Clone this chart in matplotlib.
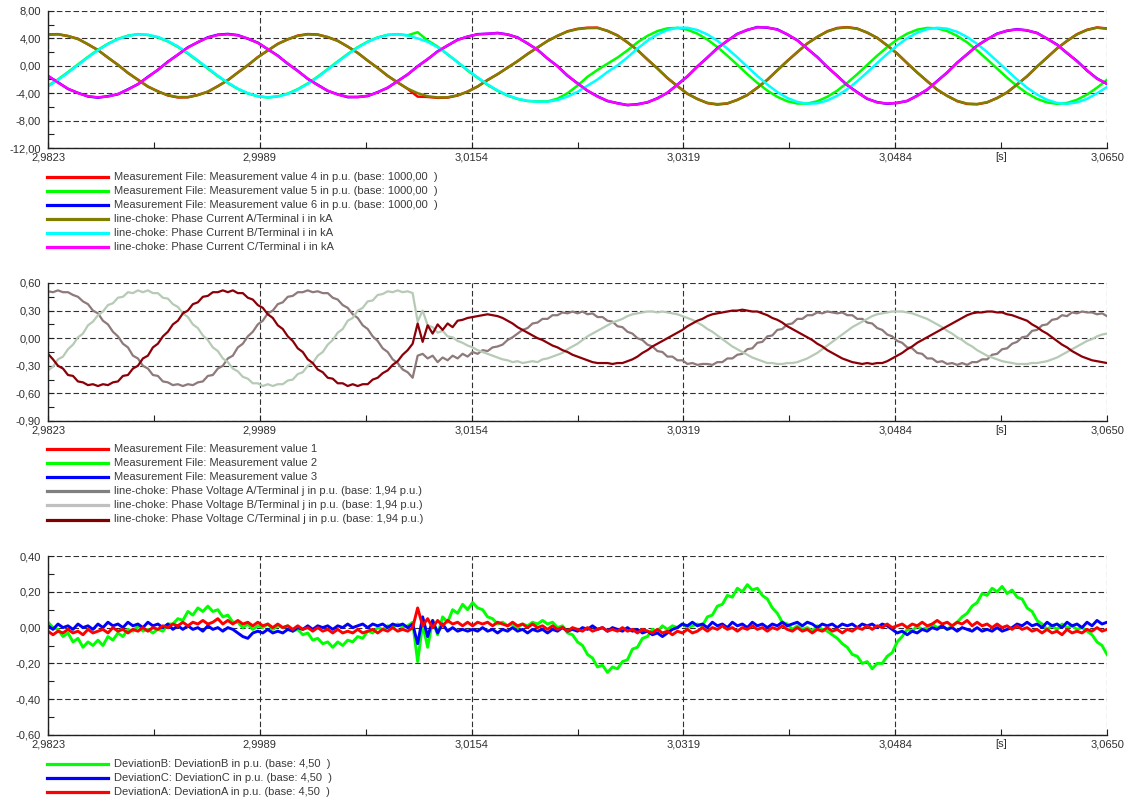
import matplotlib
matplotlib.use('Agg')
import matplotlib.pyplot as plt
from matplotlib.lines import Line2D
import numpy as np

plt.rcParams['font.family'] = ['Liberation Sans', 'DejaVu Sans']
plt.rcParams['font.size'] = 8

W, H = 1130, 801
T_START, T_END = 2.9823, 3.0650
x_labels = ['2,9823', '2,9989', '3,0154', '3,0319', '3,0484', '3,0650']

# sampling instants of the exported traces
t_coarse = np.linspace(T_START, T_END, 107)
t_fine = np.linspace(T_START, T_END, 213)

# --- phase currents (kA) ---
meas_4 = [4.58, 4.62, 4.33, 3.95, 3.12, 2.31, 1.18, 0.16, -1.05, -2.02,
          -3.05, -3.72, -4.33, -4.62, -4.60, -4.25, -3.80, -2.96, -2.12, -0.97,
          0.06, 1.27, 2.22, 3.21, 3.85, 4.41, 4.63, 4.57, 4.17, 3.66,
          2.79, 1.90, 0.74, -0.30, -1.48, -2.42, -3.37, -4.50, -4.55, -4.68,
          -4.64, -4.34, -3.76, -3.04, -2.06, -1.24, -0.26, 0.66, 1.74, 2.66,
          3.64, 4.36, 5.04, 5.40, 5.56, 5.57, 5.08, 4.45, 3.41, 2.31,
          0.91, -0.37, -1.80, -2.95, -4.09, -4.83, -5.45, -5.66, -5.51, -4.96,
          -4.28, -3.19, -2.06, -0.64, 0.72, 1.98, 3.27, 4.20, 5.04, 5.52,
          5.64, 5.44, 4.83, 4.09, 2.95, 1.80, 0.37, -0.99, -2.23, -3.49,
          -4.37, -5.16, -5.57, -5.62, -5.35, -4.69, -3.90, -2.72, -1.54, -0.10,
          1.19, 2.55, 3.62, 4.62, 5.26, 5.60, 5.45]
meas_5 = [-2.92, -1.98, -0.92, 0.20, 1.30, 2.35, 3.22, 3.93, 4.40, 4.62,
          4.50, 4.15, 3.55, 2.75, 1.78, 0.70, -0.42, -1.52, -2.52, -3.38,
          -4.04, -4.46, -4.63, -4.46, -4.06, -3.41, -2.57, -1.58, -0.48, 0.64,
          1.73, 2.72, 3.53, 4.15, 4.52, 4.62, 4.45, 4.90, 3.70, 2.80,
          1.65, 0.55, -0.70, -1.75, -2.80, -3.65, -4.35, -4.85, -5.15, -5.20,
          -5.20, -4.80, -4.00, -2.90, -1.60, -0.60, 0.30, 1.20, 2.25, 3.42,
          4.37, 5.07, 5.47, 5.53, 5.27, 4.69, 3.83, 2.74, 1.48, 0.14,
          -1.22, -2.49, -3.62, -4.53, -5.18, -5.51, -5.51, -5.18, -4.53, -3.62,
          -2.49, -1.22, 0.14, 1.48, 2.74, 3.83, 4.69, 5.27, 5.53, 5.47,
          5.07, 4.37, 3.42, 2.25, 0.94, -0.41, -1.74, -2.96, -4.02, -4.83,
          -5.35, -5.55, -5.42, -4.96, -4.20, -3.20, -2.05]
meas_6 = [-1.50, -2.41, -3.38, -3.95, -4.48, -4.65, -4.44, -4.16, -3.43, -2.70,
          -1.61, -0.61, 0.61, 1.61, 2.70, 3.43, 4.16, 4.54, 4.65, 4.48,
          3.95, 3.38, 2.41, 1.49, 0.29, -0.73, -1.91, -2.78, -3.67, -4.16,
          -4.58, -4.54, -4.42, -3.84, -3.22, -2.22, -1.28, -0.06, 0.95, 2.12,
          2.95, 3.81, 4.24, 4.62, 4.66, 4.80, 4.56, 4.15, 3.25, 2.35,
          1.05, -0.05, -1.45, -2.55, -3.65, -4.45, -5.15, -5.45, -5.75, -5.60,
          -5.35, -4.73, -3.95, -2.74, -1.56, -0.09, 1.19, 2.59, 3.64, 4.67,
          5.22, 5.66, 5.56, 5.32, 4.57, 3.74, 2.49, 1.29, -0.19, -1.46,
          -2.84, -3.85, -4.83, -5.31, -5.55, -5.40, -5.15, -4.35, -3.50, -2.22,
          -1.00, 0.46, 1.67, 2.95, 3.85, 4.70, 5.10, 5.35, 5.15, 4.80,
          3.95, 3.10, 1.85, 0.70, -0.70, -1.85, -2.65]
i_a = [4.53, 4.59, 4.37, 3.89, 3.17, 2.27, 1.23, 0.11, -1.01, -2.07,
       -3.00, -3.76, -4.29, -4.57, -4.57, -4.29, -3.76, -3.00, -2.07, -1.01,
       0.11, 1.23, 2.27, 3.17, 3.89, 4.37, 4.59, 4.53, 4.21, 3.62,
       2.83, 1.86, 0.78, -0.34, -1.44, -2.46, -3.33, -4.00, -4.45, -4.62,
       -4.60, -4.30, -3.80, -3.00, -2.10, -1.20, -0.30, 0.70, 1.70, 2.70,
       3.60, 4.40, 5.00, 5.35, 5.50, 5.52, 5.12, 4.41, 3.45, 2.27,
       0.95, -0.41, -1.76, -2.99, -4.05, -4.87, -5.41, -5.60, -5.47, -5.00,
       -4.24, -3.23, -2.02, -0.68, 0.68, 2.02, 3.23, 4.24, 5.00, 5.47,
       5.60, 5.40, 4.87, 4.05, 2.99, 1.76, 0.41, -0.95, -2.27, -3.45,
       -4.41, -5.12, -5.52, -5.58, -5.31, -4.73, -3.86, -2.76, -1.50, -0.14,
       1.23, 2.51, 3.66, 4.58, 5.22, 5.56, 5.40]
i_b = [-3.00, -2.07, -1.01, 0.11, 1.23, 2.27, 3.17, 3.89, 4.37, 4.59,
       4.53, 4.21, 3.62, 2.83, 1.86, 0.78, -0.34, -1.44, -2.46, -3.33,
       -4.00, -4.43, -4.60, -4.49, -4.11, -3.48, -2.65, -1.66, -0.56, 0.56,
       1.66, 2.65, 3.48, 4.11, 4.49, 4.60, 4.43, 4.00, 3.50, 2.70,
       1.70, 0.50, -0.60, -1.70, -2.70, -3.60, -4.30, -4.80, -5.10, -5.25,
       -5.25, -5.00, -4.50, -3.80, -2.90, -2.00, -0.90, 0.05, 1.23, 2.51,
       3.66, 4.58, 5.22, 5.55, 5.55, 5.22, 4.58, 3.66, 2.51, 1.23,
       -0.14, -1.48, -2.74, -3.83, -4.69, -5.27, -5.53, -5.47, -5.07, -4.37,
       -3.42, -2.25, -0.94, 0.41, 1.74, 2.96, 4.02, 4.83, 5.35, 5.55,
       5.42, 4.96, 4.20, 3.20, 2.00, 0.68, -0.68, -2.00, -3.20, -4.20,
       -4.96, -5.42, -5.55, -5.35, -4.83, -4.02, -3.09]
i_c = [-1.44, -2.46, -3.33, -4.00, -4.43, -4.60, -4.49, -4.11, -3.48, -2.65,
       -1.66, -0.56, 0.56, 1.66, 2.65, 3.48, 4.11, 4.49, 4.60, 4.43,
       4.00, 3.33, 2.46, 1.44, 0.34, -0.78, -1.86, -2.83, -3.62, -4.21,
       -4.53, -4.59, -4.37, -3.89, -3.17, -2.27, -1.23, -0.11, 1.00, 2.07,
       3.00, 3.76, 4.29, 4.57, 4.70, 4.75, 4.60, 4.10, 3.30, 2.30,
       1.10, -0.10, -1.40, -2.60, -3.60, -4.50, -5.10, -5.50, -5.70, -5.65,
       -5.30, -4.78, -3.90, -2.79, -1.51, -0.14, 1.24, 2.54, 3.69, 4.62,
       5.27, 5.61, 5.61, 5.27, 4.62, 3.69, 2.54, 1.24, -0.14, -1.51,
       -2.79, -3.90, -4.78, -5.36, -5.50, -5.45, -5.10, -4.40, -3.45, -2.27,
       -0.95, 0.41, 1.72, 2.90, 3.90, 4.65, 5.15, 5.30, 5.20, 4.75,
       4.00, 3.05, 1.90, 0.65, -0.65, -1.90, -2.60]

# --- phase voltages (p.u.) ---
u_a = [0.51, 0.50, 0.52, 0.50, 0.50, 0.47, 0.45, 0.40, 0.37, 0.30,
       0.27, 0.19, 0.15, 0.07, 0.02, -0.06, -0.10, -0.19, -0.22, -0.30,
       -0.33, -0.40, -0.41, -0.47, -0.48, -0.51, -0.50, -0.52, -0.50, -0.51,
       -0.48, -0.47, -0.41, -0.40, -0.33, -0.30, -0.22, -0.19, -0.10, -0.06,
       0.02, 0.07, 0.15, 0.19, 0.27, 0.30, 0.37, 0.39, 0.45, 0.46,
       0.50, 0.50, 0.52, 0.50, 0.51, 0.49, 0.49, 0.44, 0.42, 0.36,
       0.33, 0.26, 0.22, 0.14, 0.10, 0.02, -0.03, -0.11, -0.15, -0.23,
       -0.27, -0.34, -0.37, -0.43, -0.19, -0.17, -0.22, -0.19, -0.26, -0.21,
       -0.24, -0.19, -0.22, -0.17, -0.20, -0.15, -0.17, -0.13, -0.14, -0.10,
       -0.09, -0.07, -0.02, 0.01, 0.05, 0.09, 0.11, 0.16, 0.17, 0.21,
       0.21, 0.25, 0.25, 0.28, 0.27, 0.29, 0.27, 0.29, 0.26, 0.27,
       0.23, 0.23, 0.19, 0.18, 0.13, 0.12, 0.07, 0.05, 0.00, -0.02,
       -0.07, -0.09, -0.14, -0.15, -0.20, -0.20, -0.24, -0.24, -0.28, -0.27,
       -0.29, -0.28, -0.28, -0.29, -0.26, -0.26, -0.22, -0.22, -0.18, -0.17,
       -0.12, -0.11, -0.05, -0.04, 0.02, 0.03, 0.09, 0.10, 0.15, 0.16,
       0.21, 0.21, 0.25, 0.25, 0.28, 0.27, 0.29, 0.28, 0.27, 0.28,
       0.25, 0.25, 0.21, 0.21, 0.17, 0.16, 0.11, 0.09, 0.04, 0.02,
       -0.03, -0.05, -0.10, -0.11, -0.16, -0.17, -0.22, -0.22, -0.26, -0.25,
       -0.28, -0.27, -0.29, -0.27, -0.29, -0.26, -0.26, -0.23, -0.23, -0.18,
       -0.17, -0.12, -0.11, -0.06, -0.04, 0.01, 0.02, 0.08, 0.09, 0.14,
       0.15, 0.20, 0.21, 0.25, 0.24, 0.28, 0.27, 0.29, 0.28, 0.28,
       0.26, 0.27, 0.24]
u_b = [-0.35, -0.31, -0.23, -0.20, -0.12, -0.07, 0.01, 0.05, 0.14, 0.18,
       0.25, 0.29, 0.36, 0.38, 0.44, 0.45, 0.50, 0.49, 0.52, 0.50,
       0.52, 0.49, 0.49, 0.44, 0.43, 0.37, 0.34, 0.27, 0.23, 0.15,
       0.11, 0.03, -0.02, -0.10, -0.14, -0.22, -0.26, -0.33, -0.36, -0.42,
       -0.44, -0.49, -0.49, -0.52, -0.50, -0.52, -0.50, -0.50, -0.46, -0.45,
       -0.39, -0.37, -0.30, -0.27, -0.19, -0.15, -0.07, -0.02, 0.06, 0.10,
       0.19, 0.22, 0.30, 0.33, 0.40, 0.41, 0.47, 0.48, 0.51, 0.50,
       0.52, 0.50, 0.51, 0.49, 0.18, 0.30, 0.14, 0.12, 0.06, 0.08,
       0.02, 0.01, -0.03, -0.05, -0.08, -0.10, -0.13, -0.15, -0.17, -0.19,
       -0.21, -0.23, -0.24, -0.26, -0.25, -0.27, -0.26, -0.25, -0.26, -0.23,
       -0.22, -0.20, -0.18, -0.16, -0.12, -0.09, -0.06, -0.02, 0.02, 0.05,
       0.08, 0.11, 0.14, 0.17, 0.19, 0.21, 0.24, 0.26, 0.27, 0.28,
       0.29, 0.29, 0.28, 0.29, 0.28, 0.27, 0.26, 0.24, 0.22, 0.20,
       0.17, 0.14, 0.10, 0.07, 0.03, -0.01, -0.05, -0.09, -0.12, -0.15,
       -0.18, -0.21, -0.23, -0.25, -0.27, -0.27, -0.28, -0.28, -0.27, -0.27,
       -0.26, -0.24, -0.22, -0.19, -0.16, -0.12, -0.08, -0.04, 0.00, 0.04,
       0.08, 0.12, 0.15, 0.18, 0.21, 0.24, 0.26, 0.27, 0.28, 0.29,
       0.29, 0.29, 0.28, 0.27, 0.25, 0.23, 0.21, 0.18, 0.15, 0.12,
       0.08, 0.05, 0.01, -0.02, -0.06, -0.09, -0.13, -0.16, -0.19, -0.21,
       -0.23, -0.25, -0.26, -0.27, -0.28, -0.28, -0.28, -0.27, -0.27, -0.26,
       -0.25, -0.23, -0.21, -0.18, -0.15, -0.12, -0.09, -0.06, -0.03, -0.01,
       0.02, 0.04, 0.05]
u_c = [-0.17, -0.23, -0.30, -0.33, -0.40, -0.41, -0.47, -0.48, -0.51, -0.50,
       -0.52, -0.50, -0.51, -0.48, -0.47, -0.41, -0.40, -0.33, -0.30, -0.22,
       -0.19, -0.10, -0.06, 0.02, 0.07, 0.15, 0.19, 0.27, 0.30, 0.37,
       0.39, 0.45, 0.46, 0.50, 0.50, 0.52, 0.50, 0.52, 0.49, 0.49,
       0.44, 0.42, 0.36, 0.33, 0.26, 0.22, 0.14, 0.10, 0.02, -0.03,
       -0.11, -0.15, -0.23, -0.27, -0.34, -0.37, -0.43, -0.44, -0.49, -0.49,
       -0.52, -0.50, -0.52, -0.50, -0.50, -0.45, -0.43, -0.38, -0.35, -0.29,
       -0.25, -0.18, -0.13, -0.06, 0.16, -0.04, 0.14, 0.05, 0.15, 0.09,
       0.16, 0.12, 0.19, 0.20, 0.22, 0.23, 0.24, 0.25, 0.26, 0.25,
       0.24, 0.22, 0.19, 0.16, 0.12, 0.09, 0.06, 0.03, 0.00, -0.02,
       -0.05, -0.08, -0.10, -0.13, -0.15, -0.18, -0.20, -0.22, -0.24, -0.26,
       -0.27, -0.27, -0.27, -0.28, -0.27, -0.27, -0.25, -0.23, -0.20, -0.16,
       -0.13, -0.09, -0.06, -0.03, 0.00, 0.03, 0.06, 0.09, 0.13, 0.16,
       0.19, 0.21, 0.24, 0.26, 0.27, 0.28, 0.29, 0.30, 0.30, 0.31,
       0.30, 0.29, 0.29, 0.27, 0.25, 0.22, 0.20, 0.17, 0.13, 0.10,
       0.07, 0.04, 0.01, -0.02, -0.06, -0.09, -0.13, -0.16, -0.19, -0.22,
       -0.24, -0.26, -0.27, -0.28, -0.27, -0.28, -0.27, -0.27, -0.25, -0.22,
       -0.19, -0.16, -0.12, -0.09, -0.05, -0.02, 0.01, 0.04, 0.07, 0.10,
       0.13, 0.16, 0.19, 0.22, 0.25, 0.27, 0.28, 0.28, 0.29, 0.29,
       0.28, 0.28, 0.26, 0.25, 0.23, 0.21, 0.19, 0.15, 0.12, 0.08,
       0.05, 0.01, -0.03, -0.07, -0.10, -0.14, -0.17, -0.20, -0.22, -0.24,
       -0.25, -0.26, -0.27]

# --- deviations (p.u.) ---
dev_b = [0.03, 0.00, -0.01, -0.05, -0.03, -0.08, -0.06, -0.11, -0.08, -0.10,
         -0.07, -0.10, -0.05, -0.07, -0.03, -0.05, -0.01, -0.02, 0.01, -0.02,
         -0.01, -0.03, -0.01, -0.02, 0.02, 0.02, 0.05, 0.04, 0.09, 0.07,
         0.11, 0.09, 0.12, 0.09, 0.10, 0.06, 0.07, 0.03, 0.03, 0.00,
         0.02, -0.01, 0.01, 0.00, 0.02, -0.01, 0.01, 0.00, 0.01, -0.02,
         -0.01, -0.04, -0.03, -0.07, -0.06, -0.09, -0.08, -0.11, -0.08, -0.10,
         -0.07, -0.08, -0.05, -0.06, -0.02, -0.03, 0.00, -0.01, 0.01, 0.00,
         0.02, 0.00, 0.01, 0.03, -0.19, 0.02, -0.11, 0.04, -0.04, 0.06,
         0.03, 0.10, 0.08, 0.13, 0.10, 0.14, 0.11, 0.10, 0.06, 0.05,
         0.02, 0.03, 0.01, 0.02, 0.00, 0.02, 0.01, 0.03, 0.02, 0.04,
         0.02, 0.03, 0.00, 0.01, -0.03, -0.04, -0.08, -0.10, -0.15, -0.17,
         -0.22, -0.21, -0.25, -0.22, -0.23, -0.19, -0.18, -0.12, -0.11, -0.06,
         -0.05, -0.01, -0.02, 0.01, -0.01, 0.01, 0.00, 0.02, 0.00, 0.01,
         0.02, 0.01, 0.06, 0.07, 0.12, 0.13, 0.18, 0.17, 0.22, 0.20,
         0.24, 0.21, 0.22, 0.18, 0.16, 0.11, 0.08, 0.03, 0.02, -0.01,
         0.01, -0.01, 0.00, -0.02, 0.01, -0.01, -0.02, -0.04, -0.06, -0.09,
         -0.11, -0.15, -0.16, -0.20, -0.19, -0.23, -0.20, -0.20, -0.16, -0.14,
         -0.08, -0.05, -0.01, -0.02, 0.01, -0.01, 0.00, 0.02, 0.00, 0.01,
         -0.01, 0.01, 0.03, 0.06, 0.08, 0.12, 0.14, 0.19, 0.18, 0.22,
         0.20, 0.23, 0.19, 0.21, 0.17, 0.16, 0.11, 0.09, 0.04, 0.02,
         -0.01, 0.01, -0.01, 0.02, 0.00, 0.01, -0.01, 0.00, -0.02, -0.04,
         -0.08, -0.10, -0.15]
dev_c = [0.01, -0.01, 0.02, 0.00, 0.01, -0.01, 0.02, 0.00, 0.01, -0.01,
         0.02, 0.00, 0.03, 0.01, 0.02, 0.00, 0.03, 0.01, 0.02, 0.00,
         0.03, 0.01, 0.02, 0.00, 0.02, -0.01, 0.01, -0.01, 0.01, -0.01,
         0.00, -0.02, 0.01, -0.01, 0.00, -0.02, 0.00, -0.01, -0.03, -0.05,
         -0.06, -0.03, -0.02, -0.03, -0.01, -0.03, -0.02, -0.03, -0.01, -0.02,
         0.00, -0.01, 0.01, -0.01, 0.01, 0.00, 0.01, -0.01, 0.01, 0.00,
         0.02, 0.00, 0.01, 0.02, 0.00, 0.02, 0.01, 0.02, 0.00, 0.02,
         0.01, 0.02, 0.00, 0.02, -0.09, 0.06, -0.05, 0.04, -0.03, 0.02,
         -0.02, 0.00, -0.02, -0.01, -0.02, -0.01, -0.02, 0.00, -0.02, -0.01,
         -0.03, -0.01, -0.02, 0.00, -0.02, -0.01, -0.03, -0.01, -0.02, -0.01,
         -0.03, -0.01, -0.02, 0.00, -0.02, -0.01, -0.02, 0.00, -0.01, 0.01,
         -0.01, 0.00, -0.02, 0.00, -0.01, -0.02, 0.00, -0.02, -0.01, -0.03,
         -0.02, -0.04, -0.03, -0.05, -0.03, -0.01, 0.00, 0.02, 0.01, 0.03,
         0.01, 0.02, 0.00, 0.03, 0.01, 0.02, 0.00, 0.03, 0.01, 0.02,
         0.00, 0.03, 0.01, 0.02, 0.00, 0.02, 0.01, 0.03, 0.01, 0.02,
         0.03, 0.01, 0.03, 0.02, 0.00, 0.02, 0.01, 0.02, 0.00, 0.02,
         0.01, 0.02, 0.00, 0.02, 0.01, 0.02, 0.00, 0.02, 0.01, -0.01,
         -0.03, -0.02, -0.04, -0.02, -0.03, -0.01, -0.02, 0.00, -0.01, 0.01,
         -0.01, 0.00, -0.02, 0.00, -0.01, -0.02, 0.00, -0.02, -0.01, -0.02,
         0.00, -0.02, -0.01, 0.00, 0.02, 0.01, 0.03, 0.01, 0.02, 0.00,
         0.03, 0.01, 0.02, 0.00, 0.03, 0.01, 0.02, 0.00, 0.03, 0.01,
         0.04, 0.02, 0.03]
dev_a = [-0.02, -0.04, -0.02, -0.03, -0.01, -0.03, -0.02, -0.04, -0.01, -0.03,
         -0.02, -0.01, -0.03, 0.00, -0.02, -0.01, -0.03, -0.01, -0.02, 0.00,
         -0.02, 0.00, -0.01, 0.01, 0.00, 0.02, 0.01, 0.03, 0.01, 0.03,
         0.02, 0.04, 0.02, 0.03, 0.05, 0.02, 0.04, 0.02, 0.04, 0.02,
         0.03, 0.01, 0.03, 0.01, 0.02, 0.00, 0.02, 0.00, 0.01, -0.01,
         0.01, -0.01, 0.00, -0.02, 0.00, -0.02, -0.01, -0.03, -0.01, -0.03,
         -0.02, -0.03, -0.01, -0.03, -0.02, -0.01, -0.03, -0.01, -0.02, 0.00,
         -0.02, -0.01, -0.02, 0.00, 0.11, 0.01, 0.05, 0.00, 0.04, 0.01,
         0.04, 0.02, 0.03, 0.01, 0.03, 0.01, 0.03, 0.02, 0.03, 0.01,
         0.03, 0.02, 0.01, 0.03, 0.01, 0.02, 0.00, 0.02, 0.00, 0.01,
         -0.01, 0.01, -0.01, 0.00, -0.02, 0.00, -0.01, -0.02, 0.00, -0.02,
         -0.01, 0.00, -0.02, -0.01, -0.02, 0.00, -0.02, -0.01, -0.03, -0.01,
         -0.02, -0.03, -0.01, -0.03, -0.02, -0.04, -0.02, -0.03, -0.01, -0.03,
         -0.02, 0.00, -0.02, 0.00, -0.01, 0.01, -0.01, 0.00, -0.02, 0.00,
         -0.01, 0.01, -0.01, 0.00, -0.02, 0.00, -0.01, 0.01, -0.01, -0.02,
         0.00, -0.02, -0.01, -0.03, -0.01, -0.02, 0.00, -0.02, -0.01, -0.03,
         -0.01, -0.02, 0.00, -0.01, 0.01, -0.01, 0.01, 0.00, 0.02, 0.00,
         0.01, 0.02, 0.00, 0.02, 0.01, 0.03, 0.01, 0.02, 0.04, 0.02,
         0.03, 0.01, 0.03, 0.02, 0.04, 0.01, 0.03, 0.01, 0.02, 0.00,
         0.02, 0.00, 0.01, -0.01, 0.01, -0.01, 0.00, -0.02, -0.01, -0.03,
         -0.01, -0.03, -0.02, -0.04, -0.01, -0.03, -0.02, -0.03, -0.01, -0.02,
         0.00, -0.02, -0.01]

legend_top = [
    ('Measurement File: Measurement value 4 in p.u. (base: 1000,00  )', '#ff0000'),
    ('Measurement File: Measurement value 5 in p.u. (base: 1000,00  )', '#00ff00'),
    ('Measurement File: Measurement value 6 in p.u. (base: 1000,00  )', '#0000ff'),
    ('line-choke: Phase Current A/Terminal i in kA', '#808000'),
    ('line-choke: Phase Current B/Terminal i in kA', '#00ffff'),
    ('line-choke: Phase Current C/Terminal i in kA', '#ff00ff'),
]
legend_mid = [
    ('Measurement File: Measurement value 1', '#ff0000'),
    ('Measurement File: Measurement value 2', '#00ff00'),
    ('Measurement File: Measurement value 3', '#0000ff'),
    ('line-choke: Phase Voltage A/Terminal j in p.u. (base: 1,94 p.u.)', '#808080'),
    ('line-choke: Phase Voltage B/Terminal j in p.u. (base: 1,94 p.u.)', '#c0c0c0'),
    ('line-choke: Phase Voltage C/Terminal j in p.u. (base: 1,94 p.u.)', '#800000'),
]
legend_bot = [
    ('DeviationB: DeviationB in p.u. (base: 4,50  )', '#00ff00'),
    ('DeviationC: DeviationC in p.u. (base: 4,50  )', '#0000ff'),
    ('DeviationA: DeviationA in p.u. (base: 4,50  )', '#ff0000'),
]


def style_axis(ax, ymin, ymax, ystep):
    ax.set_xlim(T_START, T_END)
    ax.set_ylim(ymin, ymax)
    xt = np.linspace(T_START, T_END, 6)
    ax.set_xticks(xt)
    ax.set_xticklabels(x_labels)
    ax.set_xticks((xt[:-1] + xt[1:]) / 2, minor=True)
    ax.set_xticklabels(['', '', '', '', '[s]'], minor=True)
    yt = np.linspace(ymin, ymax, int(round((ymax - ymin) / ystep)) + 1)
    ax.set_yticks(yt)
    ax.set_yticklabels([f'{round(v, 2) + 0.0:.2f}'.replace('.', ',') for v in yt])
    ax.set_yticks((yt[:-1] + yt[1:]) / 2, minor=True)
    for s in ('top', 'right'):
        ax.spines[s].set_visible(False)
    for s in ('left', 'bottom'):
        ax.spines[s].set_linewidth(1.0)
        ax.spines[s].set_color('#202020')
    ax.grid(True, which='major', color='#303030', linestyle=(0, (5, 2.5)), linewidth=0.8)
    ax.tick_params(which='both', direction='in', length=4, width=0.8,
                   colors='#202020', labelsize=8, labelcolor='#303030')
    ax.tick_params(axis='y', which='both', pad=5)
    ax.tick_params(axis='x', which='both', pad=3)


def draw_legend(fig, top_px, entries):
    for k, (label, color) in enumerate(entries):
        y = 1 - (top_px + k * 14.1) / H
        fig.add_artist(Line2D([47 / W, 108 / W], [y, y], color=color, lw=2.3,
                              transform=fig.transFigure))
        fig.text(114 / W, y, label, va='center', ha='left', color='#3a3a3a', fontsize=8)


fig = plt.figure(figsize=(W / 100, H / 100), dpi=100)
left, width = 48 / W, (1107 - 48) / W
ax1 = fig.add_axes([left, (H - 148) / H, width, 137 / H])
ax2 = fig.add_axes([left, (H - 421) / H, width, 138 / H])
ax3 = fig.add_axes([left, (H - 735) / H, width, 179 / H])

lw = 1.8
ax1.plot(t_coarse, meas_4, color='#ff0000', lw=lw)
ax1.plot(t_coarse, meas_5, color='#00ff00', lw=lw)
ax1.plot(t_coarse, meas_6, color='#0000ff', lw=lw)
ax1.plot(t_coarse, i_a, color='#808000', lw=lw)
ax1.plot(t_coarse, i_b, color='#00ffff', lw=lw)
ax1.plot(t_coarse, i_c, color='#ff00ff', lw=lw)
style_axis(ax1, -12, 8, 4)

ax2.plot(t_fine, u_a, color='#8e7a7a', lw=1.6)
ax2.plot(t_fine, u_b, color='#b6cab6', lw=1.6)
ax2.plot(t_fine, u_c, color='#8b0008', lw=1.6)
style_axis(ax2, -0.9, 0.6, 0.3)

ax3.plot(t_fine, dev_b, color='#00ff00', lw=2.1)
ax3.plot(t_fine, dev_c, color='#0000ff', lw=2.1)
ax3.plot(t_fine, dev_a, color='#ff0000', lw=2.1)
style_axis(ax3, -0.6, 0.4, 0.2)

draw_legend(fig, 176.5, legend_top)
draw_legend(fig, 449, legend_mid)
draw_legend(fig, 764, legend_bot)

fig.savefig('out.png', dpi=100)
